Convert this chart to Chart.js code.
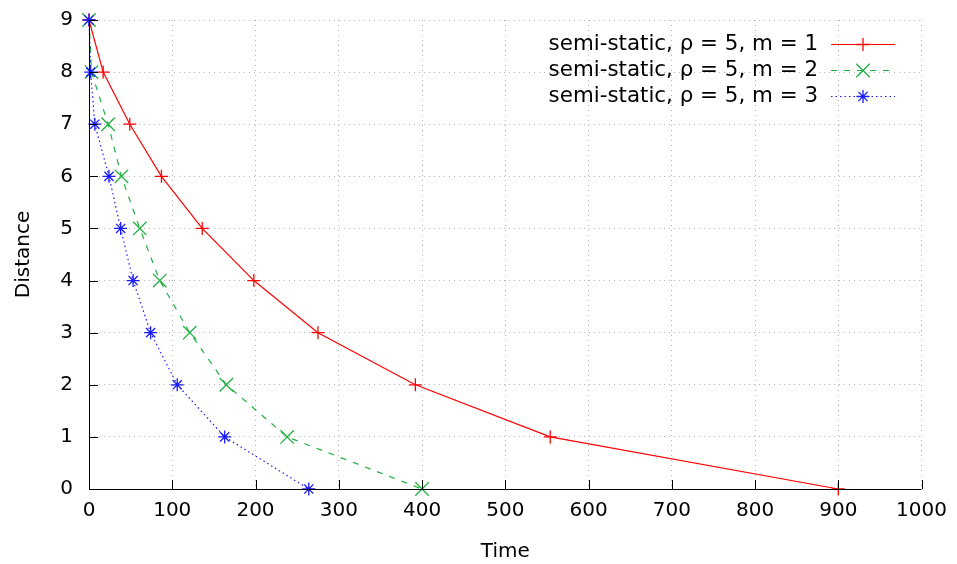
<!DOCTYPE html>
<html>
<head>
<meta charset="utf-8">
<script src="https://cdn.jsdelivr.net/npm/chart.js@4/dist/chart.umd.min.js"></script>
<style>
  html, body { margin: 0; padding: 0; background: #ffffff; }
  #wrap { width: 957px; height: 564px; }
</style>
</head>
<body>
<div id="wrap"><canvas id="c" width="957" height="564"></canvas></div>
<script>
// Distance remaining over time for the semi-static strategy, rho = 5
const distances = [9, 8, 7, 6, 5, 4, 3, 2, 1, 0];
const timeM1 = [0, 17, 49, 87, 136, 198, 275, 392, 554, 900];
const timeM2 = [0, 3, 23, 39, 61, 85, 121, 165, 238, 400];
const timeM3 = [0, 2, 7, 24, 38, 53, 74, 106, 163, 264];
const seriesLabels = [
  'semi-static, \u03C1 = 5, m = 1',
  'semi-static, \u03C1 = 5, m = 2',
  'semi-static, \u03C1 = 5, m = 3'
];
const xTicks = [0, 100, 200, 300, 400, 500, 600, 700, 800, 900, 1000];
const yTicks = [0, 1, 2, 3, 4, 5, 6, 7, 8, 9];

const FONT = 'DejaVu Sans';
const FONT_SIZE = 20;
const LEGEND_FONT_SIZE = 21.4;

function toPoints(xs, ys) {
  return xs.map((x, i) => ({ x: x, y: ys[i] }));
}

const styles = [
  { color: '#ff0000', dash: [], point: 'cross', radius: 6.5 },
  { color: '#1fb040', dash: [6, 7], point: 'crossRot', radius: 9.5 },
  { color: '#1a1aff', dash: [1.5, 3], point: 'star', radius: 6.5 }
];
const times = [timeM1, timeM2, timeM3];

const datasets = times.map((t, i) => ({
  label: seriesLabels[i],
  data: toPoints(t, distances),
  borderColor: styles[i].color,
  backgroundColor: styles[i].color,
  borderWidth: 1.2,
  borderDash: styles[i].dash,
  pointStyle: styles[i].point,
  pointRadius: styles[i].radius,
  pointHoverRadius: styles[i].radius,
  pointBorderWidth: 1.3,
  pointBorderColor: styles[i].color,
  tension: 0,
  clip: false,
  fill: false,
  order: times.length - 1 - i   // later series drawn on top
}));

// Inward tick marks, solid left/bottom axes and the inset legend
const framePlugin = {
  id: 'frame',
  afterDatasetsDraw(chart) {
    const ctx = chart.ctx;
    const xs = chart.scales.x, ys = chart.scales.y;
    const a = chart.chartArea;
    ctx.save();
    ctx.strokeStyle = '#000000';
    ctx.lineWidth = 1;
    ctx.setLineDash([]);
    ctx.beginPath();
    ctx.moveTo(a.left + 0.5, a.top);
    ctx.lineTo(a.left + 0.5, a.bottom + 0.5);
    ctx.lineTo(a.right, a.bottom + 0.5);
    const tl = 9;
    xTicks.forEach(v => {
      const px = Math.round(xs.getPixelForValue(v)) + 0.5;
      ctx.moveTo(px, a.bottom);
      ctx.lineTo(px, a.bottom - tl);
    });
    yTicks.forEach(v => {
      const py = Math.round(ys.getPixelForValue(v)) + 0.5;
      ctx.moveTo(a.left, py);
      ctx.lineTo(a.left + tl, py);
    });
    ctx.stroke();

    // legend, text right-aligned with a line sample after it
    ctx.font = LEGEND_FONT_SIZE + 'px "' + FONT + '"';
    ctx.textAlign = 'right';
    ctx.textBaseline = 'middle';
    const textRight = 818, sx0 = 831, sx1 = 895;
    chart.data.datasets.forEach((ds, i) => {
      const cy = 44 + i * 26;
      ctx.fillStyle = '#000000';
      ctx.fillText(ds.label, textRight, cy);
      ctx.strokeStyle = ds.borderColor;
      ctx.lineWidth = ds.borderWidth;
      ctx.setLineDash(ds.borderDash);
      ctx.beginPath();
      ctx.moveTo(sx0, cy + 0.5);
      ctx.lineTo(sx1, cy + 0.5);
      ctx.stroke();
      ctx.setLineDash([]);
      ctx.strokeStyle = ds.pointBorderColor;
      ctx.fillStyle = ds.backgroundColor;
      ctx.lineWidth = ds.pointBorderWidth;
      Chart.helpers.drawPoint(ctx, {
        pointStyle: ds.pointStyle,
        radius: ds.pointRadius,
        rotation: 0,
        borderWidth: ds.pointBorderWidth
      }, (sx0 + sx1) / 2, cy + 0.5);
    });
    ctx.restore();
  }
};

const chart = new Chart(document.getElementById('c'), {
  type: 'line',
  data: { datasets: datasets },
  plugins: [framePlugin],
  options: {
    responsive: false,
    animation: false,
    devicePixelRatio: 1,
    layout: { padding: { left: 0, top: 20, right: 35, bottom: 0 } },
    plugins: {
      legend: { display: false },
      tooltip: { enabled: false }
    },
    scales: {
      x: {
        type: 'linear',
        min: 0,
        max: 1000,
        afterFit(scale) { scale.height = 75; },
        afterBuildTicks(scale) { scale.ticks = xTicks.map(v => ({ value: v })); },
        grid: {
          color: '#b4b4b4',
          lineWidth: 1,
          drawTicks: false
        },
        // dotted grid lines, no axis border line (drawn by the plugin)
        border: { display: false, dash: [1, 4] },
        ticks: {
          color: '#000000',
          padding: 10,
          font: { family: FONT, size: FONT_SIZE },
          maxRotation: 0,
          autoSkip: false,
          callback: v => String(v)
        },
        title: {
          display: true,
          text: 'Time',
          color: '#000000',
          font: { family: FONT, size: FONT_SIZE },
          padding: { top: 0, bottom: 0 }
        }
      },
      y: {
        type: 'linear',
        min: 0,
        max: 9,
        afterFit(scale) { scale.width = 89; scale.paddingTop = 0; },
        afterBuildTicks(scale) { scale.ticks = yTicks.map(v => ({ value: v })); },
        grid: {
          color: '#b4b4b4',
          lineWidth: 1,
          drawTicks: false
        },
        border: { display: false, dash: [1, 4] },
        ticks: {
          color: '#000000',
          padding: 16,
          font: { family: FONT, size: FONT_SIZE },
          autoSkip: false,
          callback: v => String(v)
        },
        title: {
          display: true,
          text: 'Distance',
          color: '#000000',
          font: { family: FONT, size: FONT_SIZE },
          padding: { top: 12, bottom: 0 }
        }
      }
    }
  }
});
</script>
</body>
</html>
